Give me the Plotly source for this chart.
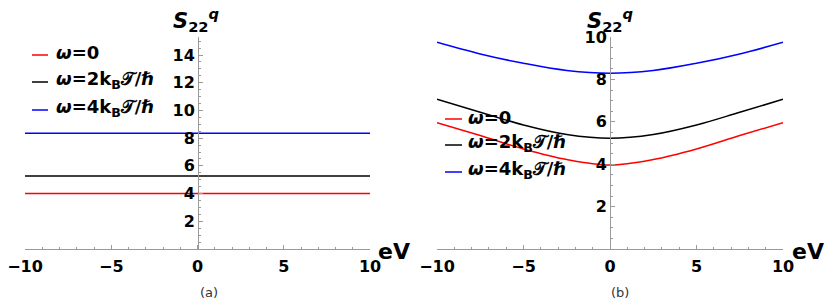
import plotly.graph_objects as go

W, H = 831, 304

# ---- data ----
energy = [-10, -7.5, -5, -2.5, 0, 2.5, 5, 7.5, 10]
series_names = ["ω=0", "ω=2k_BT/ħ", "ω=4k_BT/ħ"]
colors = ["#ff0000", "#000000", "#0000ff"]

# panel (a): constant in eV
a_red = [4.0] * 9
a_black = [5.27] * 9
a_blue = [8.35] * 9

# panel (b)
b_red = [5.96, 5.35, 4.72, 4.22, 3.96, 4.22, 4.72, 5.35, 5.96]
b_black = [7.06, 6.45, 5.85, 5.40, 5.22, 5.40, 5.85, 6.45, 7.06]
b_blue = [9.75, 9.20, 8.76, 8.42, 8.29, 8.42, 8.76, 9.20, 9.75]

x_ticks = [-10, -5, 0, 5, 10]
ya_ticks = [2, 4, 6, 8, 10, 12, 14]
yb_ticks = [2, 4, 6, 8, 10]

FONT = "DejaVu Sans"


def px(x):
    return x / W


def py(y):
    return 1 - y / H


fig = go.Figure()
for ys, c in zip([a_red, a_black, a_blue], colors):
    fig.add_trace(go.Scatter(x=energy, y=ys, mode="lines", line=dict(color=c, width=1.5),
                             xaxis="x", yaxis="y", showlegend=False))
for ys, c in zip([b_red, b_black, b_blue], colors):
    fig.add_trace(go.Scatter(x=energy, y=ys, mode="lines", line=dict(color=c, width=1.5, shape="spline"),
                             xaxis="x2", yaxis="y2", showlegend=False))

axis_common = dict(showgrid=False, zeroline=False, showline=True, linecolor="#9a9a9a", linewidth=1,
                   ticks="inside", tickcolor="#9a9a9a", ticklen=4, tickwidth=1, automargin=False,
                   tickfont=dict(family=FONT, size=16, color="black", weight="bold"))

ydom = [py(249), py(37)]
fig.update_layout(
    template="none",
    width=W, height=H, margin=dict(l=0, r=0, t=0, b=0, autoexpand=False),
    paper_bgcolor="white", plot_bgcolor="white",
    xaxis=dict(domain=[px(25), px(370)], range=[-10, 10], anchor="y", tickvals=x_ticks,
               ticktext=["−10", "−5", "0", "5", "10"], ticklabelstandoff=3,
               minor=dict(ticks="inside", dtick=1, ticklen=2, tickcolor="#9a9a9a"), **axis_common),
    yaxis=dict(domain=ydom, range=[0, 15.3], anchor="free", position=px(198), tickvals=ya_ticks,
               minor=dict(ticks="inside", dtick=0.5, ticklen=2, tickcolor="#9a9a9a"), **axis_common),
    xaxis2=dict(domain=[px(437), px(783)], range=[-10, 10], anchor="y2", tickvals=x_ticks,
                ticktext=["−10", "−5", "0", "5", "10"], ticklabelstandoff=3,
                minor=dict(ticks="inside", dtick=1, ticklen=2, tickcolor="#9a9a9a"), **axis_common),
    yaxis2=dict(domain=ydom, range=[0, 10], anchor="free", position=px(610), tickvals=yb_ticks,
                minor=dict(ticks="inside", dtick=0.5, ticklen=2, tickcolor="#9a9a9a"), **axis_common),
)

ann = []
title_txt = "<b><i>S</i><sub>22</sub><sup><i>q</i></sup></b>"
for cx in (196, 610):
    ann.append(dict(x=px(cx), y=py(20), xref="paper", yref="paper", text=title_txt, showarrow=False,
                    xanchor="center", yanchor="middle", font=dict(family=FONT, size=21, color="black")))
for cx in (394, 808):
    ann.append(dict(x=px(cx), y=py(251), xref="paper", yref="paper", text="<b>eV</b>", showarrow=False,
                    xanchor="center", yanchor="middle", font=dict(family=FONT, size=22, color="black")))
for cx, lab in ((209, "(a)"), (620, "(b)")):
    ann.append(dict(x=px(cx), y=py(292), xref="paper", yref="paper", text=lab, showarrow=False,
                    xanchor="center", yanchor="middle", font=dict(family=FONT, size=13, color="#333333")))

leg_labels = ["<b><i>ω</i>=0</b>", "<b><i>ω</i>=2k<sub>B</sub>𝒯/ℏ</b>", "<b><i>ω</i>=4k<sub>B</sub>𝒯/ℏ</b>"]
shapes = []
for (lx0, lx1, tx, rows) in ((32, 48, 54, (53, 80, 108)), (445, 462, 466, (117, 143, 170))):
    for lab, c, ry in zip(leg_labels, colors, rows):
        shapes.append(dict(type="line", xref="paper", yref="paper", x0=px(lx0), x1=px(lx1),
                           y0=py(ry + 2), y1=py(ry + 2), line=dict(color=c, width=1.5)))
        ann.append(dict(x=px(tx), y=py(ry), xref="paper", yref="paper", text=lab, showarrow=False,
                        xanchor="left", yanchor="middle", font=dict(family=FONT, size=18, color="black")))

fig.update_layout(annotations=ann, shapes=shapes)
fig.write_html("out.html", config={"displayModeBar": False},
               post_script="document.body.style.margin='0';document.body.style.overflow='hidden';")
